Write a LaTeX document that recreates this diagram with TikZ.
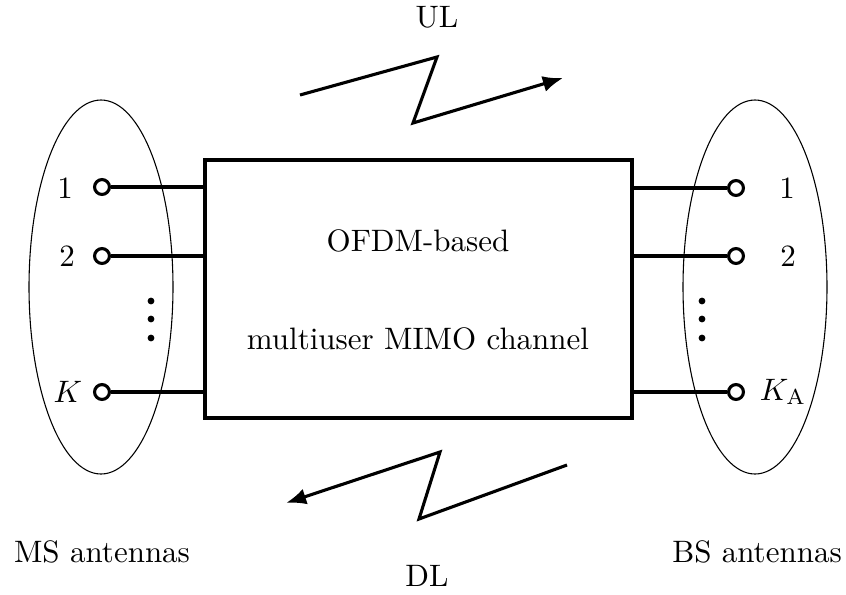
\documentclass[tikz,border=0pt]{standalone}
\usetikzlibrary{arrows.meta,shapes.geometric}
\begin{document}
\begin{tikzpicture}[x=0.3226pt,y=-0.3226pt,
  wire/.style={line width=1pt},
  term/.style={circle,draw,line width=1pt,inner sep=0pt,minimum size=4.8pt,fill=white},
  group/.style={ellipse,draw,line width=0.35pt,minimum width=46.45pt,minimum height=120.65pt,inner sep=0pt},
  chan/.style={draw,line width=1.2pt,minimum width=137.75pt,minimum height=83.2pt,inner sep=0pt},
  link/.style={line width=1pt,line join=miter,-{Latex[length=6.5pt,width=5.2pt]}},
  vdot/.style={circle,fill,inner sep=0pt,minimum size=2.2pt}]
\useasboundingbox (0,0) rectangle (846,594);

% antenna groups
\node[group] (ms) at (101,287) {};
\node[group] (bs) at (755,287) {};

% channel block
\node[chan] (ch) at (418.5,289) {};
\node (t1) at (418,241) {OFDM-based};
\node (t2) at (418,339) {multiuser MIMO channel};

% mobile station antennas
\node[term] (m1) at (102,187) {};
\node[term] (m2) at (102,256) {};
\node[term] (mk) at (102,392) {};
\draw[wire] (m1) -- (m1 -| ch.west);
\draw[wire] (m2) -- (m2 -| ch.west);
\draw[wire] (mk) -- (mk -| ch.west);
\node (lm1) at (65,188) {1};
\node (lm2) at (67,256) {2};
\node (lmk) at (68,392) {$K$};
\node[vdot] (md1) at (151,301) {};
\node[vdot] (md2) at (151,319) {};
\node[vdot] (md3) at (151,338) {};

% base station antennas
\node[term] (b1) at (736,188) {};
\node[term] (b2) at (736,256) {};
\node[term] (bk) at (736,392) {};
\draw[wire] (b1) -- (b1 -| ch.east);
\draw[wire] (b2) -- (b2 -| ch.east);
\draw[wire] (bk) -- (bk -| ch.east);
\node (lb1) at (787,188) {1};
\node (lb2) at (788,256) {2};
\node (lbk) at (783,392) {$K_{\mathrm{A}}$};
\node[vdot] (bd1) at (702,301) {};
\node[vdot] (bd2) at (702,319) {};
\node[vdot] (bd3) at (702,338) {};

\node (msl) at (102,552) {MS antennas};
\node (bsl) at (757,552) {BS antennas};

% uplink
\coordinate (u0) at (300,95);
\coordinate (u1) at (437,57);
\coordinate (u2) at (413,123);
\coordinate (u3) at (563,78);
\draw[link] (u0) -- (u1) -- (u2) -- (u3);
\node (ul) at (437,17) {UL};

% downlink
\coordinate (d0) at (567,465);
\coordinate (d1) at (419,519);
\coordinate (d2) at (440,452);
\coordinate (d3) at (286,503);
\draw[link] (d0) -- (d1) -- (d2) -- (d3);
\node (dl) at (427,576) {DL};
\end{tikzpicture}
\end{document}
